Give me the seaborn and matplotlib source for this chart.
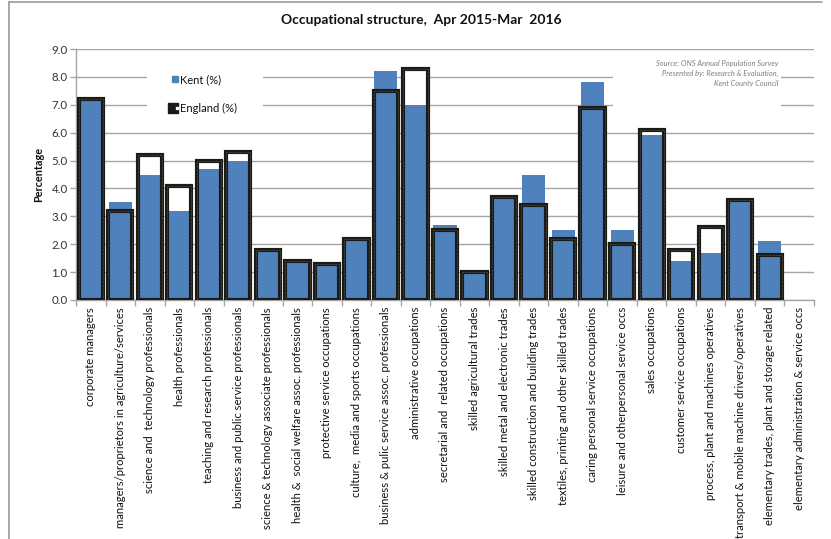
import matplotlib
matplotlib.use("Agg")
import matplotlib.pyplot as plt
import matplotlib.transforms as mtransforms
from matplotlib.lines import Line2D
from matplotlib.legend_handler import HandlerTuple
from matplotlib.patches import Rectangle
import numpy as np
import pandas as pd
import seaborn as sns

occupations = [
    "corporate managers",
    "managers/proprietors in agriculture/services",
    "science and  technology professionals",
    "health professionals",
    "teaching and research professionals",
    "business and public service professionals",
    "science & technology associate professionals",
    "health &  social welfare assoc. professionals",
    "protective service occupations",
    "culture,  media and sports occupations",
    "business & pulic service assoc. professionals",
    "administrative occupations",
    "secretarial and  related occupations",
    "skilled agricultural trades",
    "skilled metal and electronic trades",
    "skilled construction and building trades",
    "textiles, printing and other skilled trades",
    "caring personal service occupations",
    "leisure and otherpersonal service occs",
    "sales occupations",
    "customer service occupations",
    "process, plant and machines operatives",
    "transport & mobile machine drivers/operatives",
    "elementary trades, plant and storage related",
    "elementary administration & service occs",
]

# last category has no published figure
kent_pct = [7.2, 3.5, 4.5, 3.2, 4.7, 5.0, 1.85, 1.4, 1.35, 2.2, 8.2, 7.0, 2.7,
            1.0, 3.75, 4.5, 2.5, 7.8, 2.5, 5.9, 1.4, 1.7, 3.65, 2.1, np.nan]
england_pct = [7.2, 3.2, 5.2, 4.1, 5.0, 5.3, 1.8, 1.4, 1.3, 2.2, 7.5, 8.3, 2.5,
               1.0, 3.7, 3.4, 2.2, 6.9, 2.0, 6.1, 1.8, 2.6, 3.6, 1.6, np.nan]

y_ticks = [0.0, 1.0, 2.0, 3.0, 4.0, 5.0, 6.0, 7.0, 8.0, 9.0]

title_text = "Occupational structure,  Apr 2015-Mar  2016"
source_lines = "Source: ONS Annual Population Survey\nPresented by: Research & Evaluation,\nKent County Council"

df = pd.DataFrame({"occupation": occupations, "Kent": kent_pct, "England": england_pct})

sns.set_theme(style="white")
plt.rcParams["font.family"] = ["Lato", "DejaVu Sans"]

KENT_BLUE = "#4f81bd"
OUTLINE = "#1a1a16"
GRID = "#a6a6a6"

W, H = 831, 539
fig = plt.figure(figsize=(W / 100, H / 100), dpi=100)
ax = fig.add_axes([76 / W, 1 - 300 / H, (814 - 76) / W, (300 - 49) / H])

order = occupations
n = len(occupations)
# England bars: white body underneath, Kent bars over it, England outline on top
sns.barplot(data=df, x="occupation", y="England", order=order, color="white",
            width=0.82, saturation=1, linewidth=0, ax=ax, zorder=2)
sns.barplot(data=df, x="occupation", y="Kent", order=order, color=KENT_BLUE,
            width=0.78, saturation=1, linewidth=0, ax=ax, zorder=3)
sns.barplot(data=df, x="occupation", y="England", order=order, fill=False,
            width=0.82, edgecolor=OUTLINE, linewidth=3.0, ax=ax, zorder=4)
sns.barplot(data=df, x="occupation", y="England", order=order, fill=False,
            width=0.82, edgecolor="#8a8a8a", linewidth=0.4, linestyle=(0, (1, 1.5)),
            ax=ax, zorder=5)

ax.set_xlim(-0.5, n - 0.5)
ax.set_ylim(0, 9.0)
ax.set_yticks(y_ticks)
ax.set_yticklabels([f"{v:.1f}" for v in y_ticks])
ax.yaxis.grid(True, color=GRID, linewidth=1.0)
ax.set_axisbelow(True)

ax.set_xticks(range(n))
ax.set_xticklabels(occupations, rotation=90, fontsize=8.1, color="#111111",
                   va="top", ha="center")
ax.set_xticks(np.arange(-0.5, n, 1.0), minor=True)
ax.tick_params(axis="x", which="major", length=0, pad=5)
ax.tick_params(axis="x", which="minor", length=4, color=GRID, width=1, direction="out")
ax.tick_params(axis="y", length=4, color=GRID, width=1, direction="out",
               labelsize=8.3, labelcolor="#333333", pad=2)
ax.tick_params(axis="both", bottom=True, left=True, which="both")

for side in ("top", "right"):
    ax.spines[side].set_visible(False)
for side in ("left", "bottom"):
    ax.spines[side].set_color(GRID)
    ax.spines[side].set_linewidth(1.0)

ax.set_xlabel("")
ax.set_ylabel("Percentage", fontsize=7.8, fontweight="bold", color="#111111", labelpad=5)

blend = mtransforms.blended_transform_factory(ax.transAxes, ax.transData)
# clear space behind the legend
ax.add_patch(Rectangle(((147 - 76) / 738, 6.5), (263 - 147) / 738, 2.0,
                       transform=blend, facecolor="white", edgecolor="none", zorder=1.5))
# clear space behind the source note
ax.add_patch(Rectangle(((613 - 76) / 738, 6.7), (781 - 613) / 738, 1.8,
                       transform=blend, facecolor="white", edgecolor="none", zorder=1.5))

kent_handle = Line2D([], [], marker="s", linestyle="none", markersize=5,
                     markerfacecolor=KENT_BLUE, markeredgecolor=KENT_BLUE)
eng_box = Line2D([], [], marker="s", linestyle="none", markersize=6.5,
                 markerfacecolor=OUTLINE, markeredgecolor=OUTLINE)
eng_dot = Line2D([], [], marker="s", linestyle="none", markersize=2.0,
                 markerfacecolor="white", markeredgecolor="white")
leg = ax.legend([kent_handle, (eng_box, eng_dot)], ["Kent (%)", "England (%)"],
                handler_map={tuple: HandlerTuple(ndivide=None, pad=0)},
                loc="upper left", bbox_to_anchor=(171 / W, 1 - 74 / H),
                bbox_transform=fig.transFigure, frameon=False, fontsize=8,
                handlelength=0.7, handletextpad=0.15, labelspacing=1.6,
                borderpad=0, borderaxespad=0)
for t in leg.get_texts():
    t.set_color("#111111")

ax.text((778 - 76) / 738, 8.6, source_lines, transform=blend, ha="right", va="top",
        fontsize=5.4, style="italic", color="#7f7f7f", linespacing=1.45, zorder=6)

fig.text(421 / W, 1 - 20 / H, title_text, ha="center", va="center",
         fontsize=10, fontweight="bold", color="#111111")

# chart-area border (top and left edges)
fig.add_artist(Line2D([9 / W, 9 / W], [0, 1 - 1.5 / H], transform=fig.transFigure,
                      color="#9a9a9a", linewidth=1.2))
fig.add_artist(Line2D([9 / W, 822 / W], [1 - 1.5 / H, 1 - 1.5 / H], transform=fig.transFigure,
                      color="#9a9a9a", linewidth=1.2))

fig.savefig("out.png", dpi=100, facecolor="white")
